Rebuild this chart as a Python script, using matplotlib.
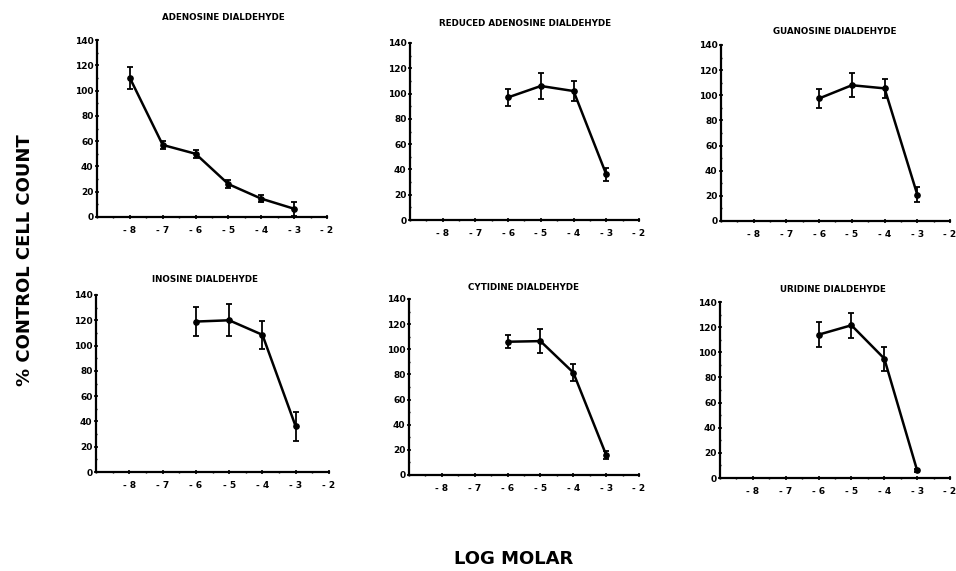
import matplotlib
matplotlib.use("Agg")
import matplotlib.pyplot as plt
from matplotlib.ticker import MultipleLocator, FixedLocator

plt.rcParams['font.family'] = ['DejaVu Sans']
plt.rcParams['font.weight'] = 'bold'

titles = ["ADENOSINE DIALDEHYDE", "REDUCED ADENOSINE DIALDEHYDE", "GUANOSINE DIALDEHYDE",
          "INOSINE DIALDEHYDE", "CYTIDINE DIALDEHYDE", "URIDINE DIALDEHYDE"]

x_ado = [-8, -7, -6, -5, -4, -3]
x_other = [-6, -5, -4, -3]

ado_mean = [110, 57, 50, 26, 14.5, 6.5]
ado_err = [9, 3.5, 3, 3, 3, 5.5]
reduced_mean = [97, 106, 102, 36]
reduced_err = [7, 10.5, 8, 5]
guano_mean = [97.5, 108, 105.5, 21]
guano_err = [7.5, 9.5, 7.5, 6]
inosine_mean = [119, 120, 108.5, 36]
inosine_err = [11.5, 12.5, 11, 11.5]
cytidine_mean = [106, 106.5, 81.5, 16]
cytidine_err = [5, 9.5, 6.5, 3]
uridine_mean = [114, 121.5, 95, 6]
uridine_err = [10, 10, 9.5, 1.5]

xticks = [-8, -7, -6, -5, -4, -3, -2]
xtick_labels = ["- 8", "- 7", "- 6", "- 5", "- 4", "- 3", "- 2"]
yticks = [0, 20, 40, 60, 80, 100, 120, 140]

series = [
    (x_ado, ado_mean, ado_err),
    (x_other, reduced_mean, reduced_err),
    (x_other, guano_mean, guano_err),
    (x_other, inosine_mean, inosine_err),
    (x_other, cytidine_mean, cytidine_err),
    (x_other, uridine_mean, uridine_err),
]

W, H = 956, 571
# axes boxes in pixels: (left, right, bottom(y0 px), top(y140 px))
boxes = [
    (97, 327, 217, 40),
    (410, 639, 220, 43),
    (721, 950, 221, 45),
    (96, 329, 472, 295),
    (409, 639, 475, 299),
    (720, 950, 478, 302),
]
title_pos = [(223, 18), (525, 23), (835, 32), (205, 280), (523, 288), (833, 290)]

fig = plt.figure(figsize=(W / 100, H / 100), dpi=100)

for (l, r, b, t), (xs, ms, es), title, (tx, ty) in zip(boxes, series, titles, title_pos):
    ax = fig.add_axes([l / W, 1 - b / H, (r - l) / W, (b - t) / H])
    ax.errorbar(xs, ms, yerr=es, color='black', lw=1.8, marker='o', ms=3.8,
                capsize=2, elinewidth=1.3, capthick=1.3, clip_on=False)
    ax.set_xlim(-9, -2)
    ax.set_ylim(0, 140)
    for s in ['top', 'right']:
        ax.spines[s].set_visible(False)
    for s in ['left', 'bottom']:
        ax.spines[s].set_linewidth(1.6)
    ax.xaxis.set_major_locator(FixedLocator(xticks))
    ax.set_xticklabels(xtick_labels)
    ax.xaxis.set_minor_locator(MultipleLocator(0.5))
    ax.yaxis.set_major_locator(FixedLocator(yticks))
    ax.yaxis.set_minor_locator(MultipleLocator(10))
    ax.tick_params(axis='both', which='major', labelsize=6.5, width=1.2, length=3,
                   direction='inout')
    ax.tick_params(axis='x', which='major', pad=5)
    ax.tick_params(axis='y', which='major', pad=1)
    ax.tick_params(axis='both', which='minor', width=1, length=2, direction='inout')
    for lab in ax.get_xticklabels() + ax.get_yticklabels():
        lab.set_fontweight('bold')
    fig.text(tx / W, 1 - ty / H, title, ha='center', va='center', fontsize=6.3,
             fontweight='bold')

fig.text(25 / W, 1 - 260 / H, "% CONTROL CELL COUNT", rotation=90, ha='center',
         va='center', fontsize=13, fontweight='bold')
fig.text(514 / W, 1 - 559 / H, "LOG MOLAR", ha='center', va='center', fontsize=13,
         fontweight='bold')

fig.savefig("out.png", dpi=100)
